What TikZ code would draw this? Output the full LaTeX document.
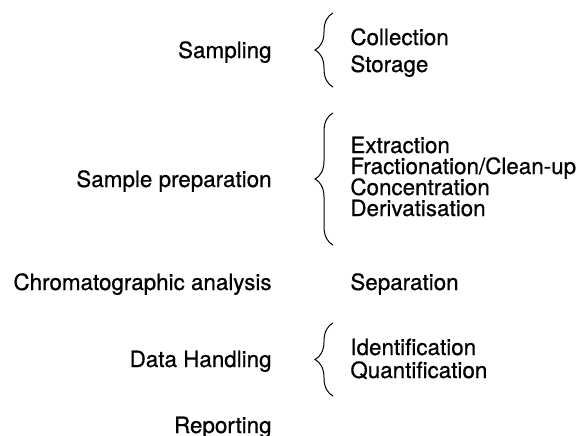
\documentclass[tikz,border=0pt]{standalone}
\usepackage{fontspec}
\setmainfont{TeX Gyre Heros}[FakeBold=0.6]
\usetikzlibrary{decorations.pathreplacing}
\begin{document}
\begin{tikzpicture}[x=0.5pt, y=-0.5pt,
    stage/.style={anchor=base east, inner sep=0pt, font=\fontsize{11.2}{13}\selectfont},
    task/.style={anchor=base west, inner sep=0pt, font=\fontsize{11.2}{13}\selectfont},
    curly/.style={decorate, decoration={brace, amplitude=9pt}, line width=0.5pt}]

    \useasboundingbox (0, 0) rectangle (579, 435);

    \node (sSampling) [stage] at (272, 58) {Sampling};
    \node (sPrep) [stage] at (272, 187) {Sample preparation};
    \node (sChrom) [stage] at (272, 290) {Chromatographic analysis};
    \node (sData) [stage] at (272, 367) {Data Handling};
    \node (sReport) [stage] at (272, 433) {Reporting};

    \node (tCollect) [task] at (350, 45) {Collection};
    \node (tStore) [task] at (350, 72) {Storage};
    \node (tExtract) [task] at (350, 153) {Extraction};
    \node (tFract) [task] at (350, 174) {Fractionation/Clean-up};
    \node (tConc) [task] at (350, 195) {Concentration};
    \node (tDeriv) [task] at (350, 216) {Derivatisation};
    \node (tSep) [task] at (350, 290) {Separation};
    \node (tIdent) [task] at (350, 355) {Identification};
    \node (tQuant) [task] at (350, 378) {Quantification};

    \coordinate (bA) at (333, 13);
    \coordinate (bB) at (333, 87);
    \coordinate (bC) at (333, 113);
    \coordinate (bD) at (333, 245);
    \coordinate (bE) at (333, 323);
    \coordinate (bF) at (333, 396);

    \draw[curly] (bB) -- (bA);
    \draw[curly] (bD) -- (bC);
    \draw[curly] (bF) -- (bE);

\end{tikzpicture}
\end{document}
